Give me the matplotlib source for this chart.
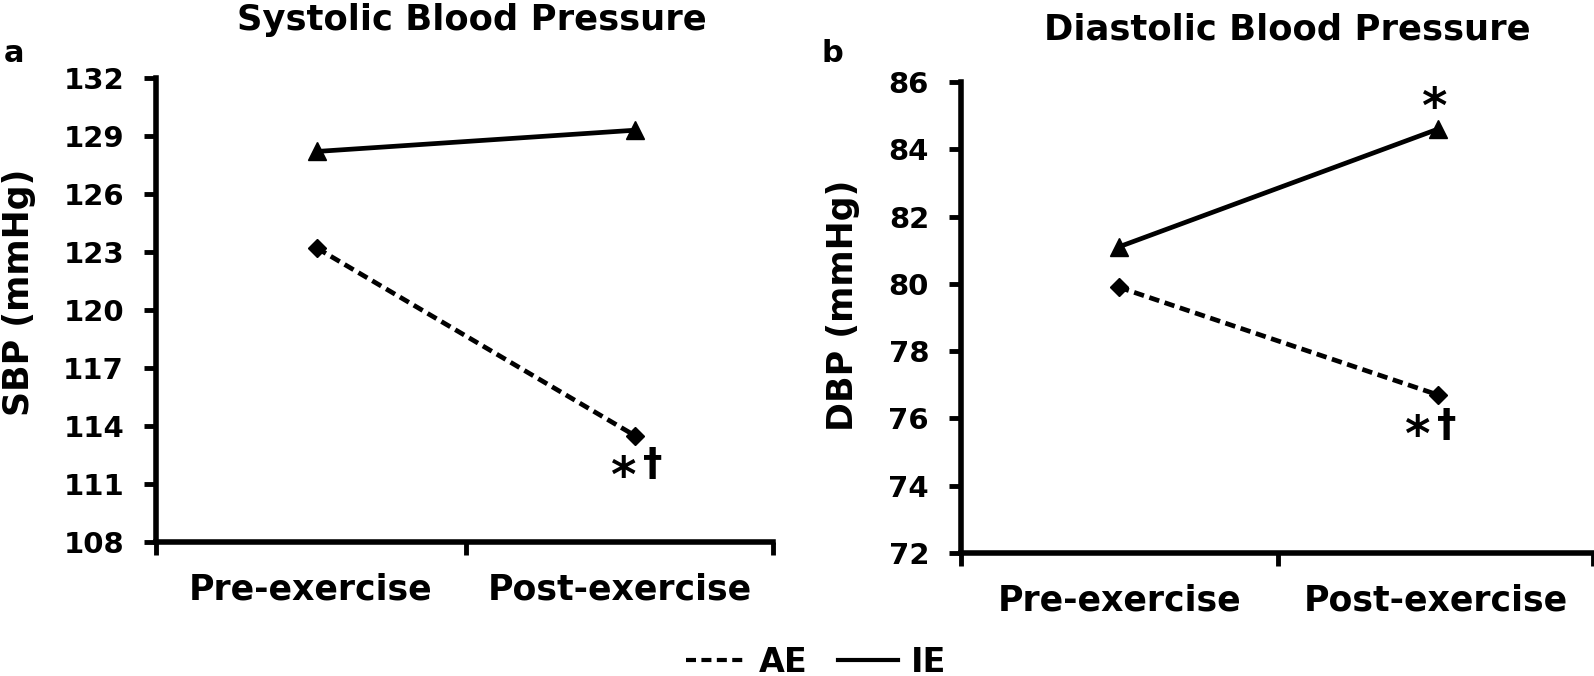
import matplotlib
matplotlib.use("Agg")
import matplotlib.pyplot as plt
from matplotlib.lines import Line2D
import numpy as np

plt.rcParams['font.family'] = ['DejaVu Sans']
plt.rcParams['font.weight'] = 'bold'

categories = ["Pre-exercise", "Post-exercise"]
sbp_ae = [123.2, 113.5]
sbp_ie = [128.2, 129.3]
dbp_ae = [79.9, 76.7]
dbp_ie = [81.1, 84.6]
sbp_ticks = [108, 111, 114, 117, 120, 123, 126, 129, 132]
dbp_ticks = [72, 74, 76, 78, 80, 82, 84, 86]

W, H = 1594, 676
fig = plt.figure(figsize=(W / 100, H / 100), dpi=100)

def fx(px):
    return px / W

def fy(py):
    return 1 - py / H

LW = 3.4
dash = (2.2, 1.2)

def panel(rect, ae, ie, ticks, xlim, mid):
    ax = fig.add_axes(rect)
    x = np.arange(len(categories))
    ax.plot(x, ie, color='black', lw=LW, marker='^', ms=13, solid_capstyle='butt')
    ax.plot(x, ae, color='black', lw=LW, ls=(0, dash), marker='D', ms=9)
    ax.set_ylim(ticks[0], ticks[-1])
    ax.set_yticks(ticks)
    ax.set_xlim(*xlim)
    ax.set_xticks([xlim[0], mid, xlim[1]])
    ax.set_xticklabels([])
    ax.set_xticks([(xlim[0] + mid) / 2, (mid + xlim[1]) / 2], minor=True)
    ax.set_xticklabels(categories, minor=True, fontsize=25, fontweight='bold')
    ax.tick_params(axis='x', which='minor', length=0, pad=22)
    ax.tick_params(axis='x', which='major', length=9, width=3.5, direction='out')
    ax.tick_params(axis='y', length=9, width=3.5, direction='out', labelsize=21, pad=14)
    for lab in ax.get_yticklabels():
        lab.set_fontweight('bold')
    for s in ['top', 'right']:
        ax.spines[s].set_visible(False)
    for s in ['left', 'bottom']:
        ax.spines[s].set_linewidth(4)
    ax.patch.set_alpha(0)
    return ax, x

def mark(ax, xy, text, dx_px, dy_px, size):
    ax.annotate(text, xy, xytext=(dx_px * 0.72, dy_px * 0.72), textcoords='offset points',
                ha='center', va='baseline', fontsize=size, fontweight='bold',
                annotation_clip=False)

# Left panel
axL, xL = panel([fx(156), fy(542), fx(773) - fx(156), fy(78) - fy(542)],
                sbp_ae, sbp_ie, sbp_ticks, (-0.506, 1.434), 0.469)
mark(axL, (xL[1], sbp_ae[1]), "*", -11, -56, 35)
mark(axL, (xL[1], sbp_ae[1]), "†", 18, -40, 28)

# Right panel
axR, xR = panel([fx(961), fy(553), fx(1593) - fx(961), fy(82) - fy(553)],
                dbp_ae, dbp_ie, dbp_ticks, (-0.495, 1.486), 0.498)
mark(axR, (xR[1], dbp_ae[1]), "*", -20, -56, 35)
mark(axR, (xR[1], dbp_ae[1]), "†", 9, -42, 28)
mark(axR, (xR[1], dbp_ie[1]), "*", -3, 6, 35)

# Titles, panel letters, y labels
fig.text(fx(472), fy(20), "Systolic Blood Pressure", ha='center', va='center',
         fontsize=25.5, fontweight='bold')
fig.text(fx(1287), fy(30), "Diastolic Blood Pressure", ha='center', va='center',
         fontsize=25.5, fontweight='bold')
fig.text(fx(4), fy(54), "a", ha='left', va='center', fontsize=22, fontweight='bold')
fig.text(fx(822), fy(54), "b", ha='left', va='center', fontsize=22, fontweight='bold')
fig.text(fx(19), fy(292), "SBP (mmHg)", rotation=90, ha='center', va='center',
         fontsize=25, fontweight='bold')
fig.text(fx(843), fy(305), "DBP (mmHg)", rotation=90, ha='center', va='center',
         fontsize=25, fontweight='bold')

handles = [Line2D([], [], color='black', lw=3, ls=(0, (2.4, 1.3))),
           Line2D([], [], color='black', lw=3)]
fig.legend(handles, ["AE", "IE"], loc='center', bbox_to_anchor=(fx(816), fy(662)),
           ncol=2, frameon=False, handlelength=1.8, handletextpad=0.4,
           columnspacing=0.9, prop={'weight': 'bold', 'size': 24})

fig.savefig("out.png", dpi=100)
